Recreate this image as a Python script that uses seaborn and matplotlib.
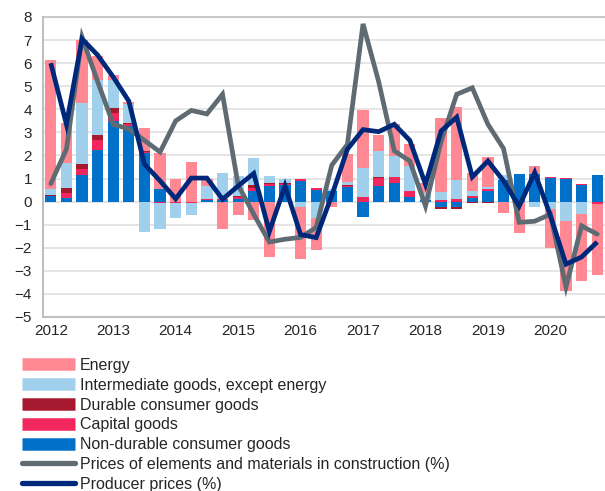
import numpy as np
import matplotlib
matplotlib.use("Agg")
import matplotlib.pyplot as plt
import seaborn as sns
import pandas as pd
from matplotlib.lines import Line2D

# quarterly contributions, 2012Q1 .. 2020Q4
years = ["2012", "2013", "2014", "2015", "2016", "2017", "2018", "2019", "2020"]
non_durable = [0.23, 0.17, 1.15, 2.25, 3.49, 3.26, 2.12, 0.53, 0.0, 0.0, 0.08, 0.08,
               0.13, 0.45, 0.69, 0.70, 0.91, 0.52, 0.44, 0.65, -0.66, 0.68, 0.82, 0.21,
               0.05, -0.22, -0.23, 0.17, 0.48, 0.95, 1.18, 1.18, 1.02, 1.0, 0.74, 1.16]
capital = [0.03, 0.20, 0.25, 0.40, 0.33, 0.09, 0.05, -0.07, -0.08, -0.08, 0.03, 0.02,
           0.05, 0.15, 0.08, 0.07, 0.07, 0.06, 0.03, 0.04, 0.20, 0.36, 0.26, 0.24,
           0.04, 0.05, 0.12, 0.07, 0.08, 0.0, 0.0, 0.0, 0.03, 0.03, 0.03, -0.09]
durable = [0.03, 0.20, 0.22, 0.22, 0.22, 0.07, 0.03, 0.0, 0.0, 0.0, 0.0, 0.0,
           0.05, 0.13, 0.03, 0.05, 0.02, 0.02, 0.0, 0.01, 0.0, 0.02, 0.0, 0.0,
           0.0, -0.10, -0.10, -0.07, -0.05, 0.0, 0.0, 0.0, 0.0, 0.0, 0.0, 0.0]
intermediate = [0.25, 1.10, 2.65, 2.42, 1.21, 0.82, -1.30, -1.10, -0.65, -0.50, 0.55, 1.15,
                0.88, 1.15, 0.33, 0.14, -0.22, -0.70, 0.08, 0.15, 1.24, 1.12, 0.90, 1.08,
                0.30, 0.38, 0.80, 0.22, 0.06, 0.22, 0.0, -0.24, -0.32, -0.82, -0.52, 0.0]
energy = [5.60, 1.72, 2.75, 1.00, 0.22, 0.09, 1.00, 1.58, 1.00, 1.72, 0.30, -1.18,
          -0.57, -0.79, -2.42, 0.0, -2.28, -1.38, -0.25, 1.21, 2.51, 0.70, 1.37, 0.95,
          0.40, 3.20, 3.17, 0.80, 1.30, -0.48, -1.38, 0.36, -1.68, -3.05, -2.90, -3.08]
construction = [0.78, 2.27, 7.13, 5.20, 3.35, 3.15, 2.65, 2.15, 3.50, 3.95, 3.80, 4.65,
                0.72, -0.55, -1.75, -1.63, -1.55, -1.12, 1.58, 2.48, 7.70, 5.20, 2.20, 1.76,
                -0.19, 2.60, 4.65, 4.93, 3.35, 2.30, -0.90, -0.85, -0.55, -3.70, -1.05, -1.41]
producer = [6.00, 3.35, 7.05, 6.35, 5.40, 4.35, 1.62, 0.90, 0.12, 1.02, 1.02, 0.10,
            0.68, 1.22, -1.30, 0.68, -1.43, -1.56, 0.27, 2.27, 3.12, 3.03, 3.35, 2.65,
            0.75, 3.06, 3.66, 1.07, 1.76, 0.90, -0.20, 1.26, -0.60, -2.71, -2.40, -1.75]

series = [
    ("Non-durable consumer goods", non_durable, "#0070C9"),
    ("Capital goods", capital, "#F2275D"),
    ("Durable consumer goods", durable, "#A6192E"),
    ("Intermediate goods, except energy", intermediate, "#A0D0EC"),
    ("Energy", energy, "#FF8893"),
]
grey = "#5F6B73"
navy = "#00287A"

sns.set_style("white")
plt.rcParams["font.family"] = ["Liberation Sans", "DejaVu Sans"]
plt.rcParams["font.size"] = 11

fig = plt.figure(figsize=(6.05, 4.91), dpi=100)
ax = fig.add_axes([43 / 605, 1 - 317 / 491, 562 / 605, 300 / 491])

n = len(producer)
x = np.arange(n)
pos = np.zeros(n)
neg = np.zeros(n)
for name, vals, col in series:
    v = np.array(vals)
    bottom = np.where(v >= 0, pos, neg)
    ax.bar(x, v, bottom=bottom, width=0.72, color=col, linewidth=0, zorder=2)
    pos = pos + np.where(v >= 0, v, 0)
    neg = neg + np.where(v < 0, v, 0)

df = pd.DataFrame({"q": x, "construction": construction, "producer": producer})
sns.lineplot(data=df, x="q", y="construction", color=grey, linewidth=3.4, ax=ax,
             zorder=3, solid_capstyle="round", solid_joinstyle="miter")
sns.lineplot(data=df, x="q", y="producer", color=navy, linewidth=3.4, ax=ax,
             zorder=4, solid_capstyle="butt", solid_joinstyle="miter")

ax.set_xlim(-0.5, n - 0.5)
ax.set_ylim(-5, 8)
ax.set_yticks(range(-5, 9))
ax.yaxis.grid(True, color="#E3E3E3", linewidth=1.3, zorder=0)
ax.set_axisbelow(True)
ax.tick_params(axis="y", length=0, pad=8, labelsize=11)

ax.set_xticks(np.arange(-0.5, n, 4))
ax.set_xticklabels([])
ax.set_xticks(np.arange(0, n, 4), minor=True)
ax.set_xticklabels(years, minor=True)
ax.tick_params(axis="x", which="major", direction="out", length=4, color="#BFBFBF", width=1)
ax.tick_params(axis="x", which="minor", length=0, pad=5, labelsize=11)
ax.set_xlabel("")
ax.set_ylabel("")

for s in ["top", "right"]:
    ax.spines[s].set_visible(False)
for s in ["left", "bottom"]:
    ax.spines[s].set_color("#BFBFBF")
    ax.spines[s].set_linewidth(1.5)
ax.axhline(8, color="#C8C8C8", linewidth=1.5, zorder=1, clip_on=False)

handles = [Line2D([0], [0], color=col, linewidth=9, solid_capstyle="butt", label=name)
           for name, vals, col in reversed(series)]
handles.append(Line2D([0], [0], color=grey, linewidth=3.8, solid_capstyle="round",
                      label="Prices of elements and materials in construction (%)"))
handles.append(Line2D([0], [0], color=navy, linewidth=3.8, solid_capstyle="round",
                      label="Producer prices (%)"))
fig.legend(handles=handles, loc="upper left", bbox_to_anchor=(22 / 605, 1 - 358 / 491),
           frameon=False, handlelength=3.3, handletextpad=0.32, labelspacing=0.3,
           fontsize=11.5, borderaxespad=0, borderpad=0)

fig.savefig("out.png", dpi=100)
